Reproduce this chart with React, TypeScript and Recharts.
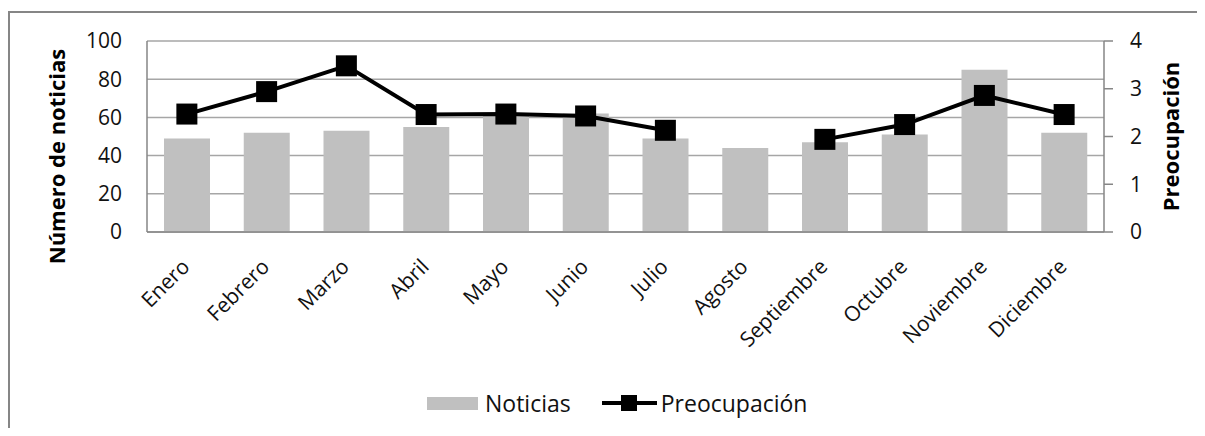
import React from "react";
import { ComposedChart, Bar, Line, XAxis, YAxis, CartesianGrid, Legend } from "recharts";

// Data
const months = [
  "Enero",
  "Febrero",
  "Marzo",
  "Abril",
  "Mayo",
  "Junio",
  "Julio",
  "Agosto",
  "Septiembre",
  "Octubre",
  "Noviembre",
  "Diciembre",
];
const noticias = [49, 52, 53, 55, 61, 62, 49, 44, 47, 51, 85, 52];
const preocupacion: (number | null)[] = [2.47, 2.94, 3.48, 2.46, 2.47, 2.43, 2.13, null, 1.94, 2.25, 2.86, 2.46];
const leftTicks = [0, 20, 40, 60, 80, 100];
const rightTicks = [0, 1, 2, 3, 4];

const data = months.map((m, i) => ({ name: m, noticias: noticias[i], preocupacion: preocupacion[i] }));

const FONT = "'Open Sans', sans-serif";
const AXIS = "#868686";
const GRID = "#a6a6a6";
const BAR = "#c0c0c0";

function MonthTick({ x, y, payload }: any) {
  const ax = x + 4;
  const ay = y + 36;
  return (
    <text
      x={ax}
      y={ay}
      transform={`rotate(-45, ${ax}, ${ay})`}
      textAnchor="end"
      fontFamily={FONT}
      fontSize={21}
      fill="#111"
    >
      {payload.value}
    </text>
  );
}

function SquareDot({ cx, cy, index }: any) {
  if (cx == null || cy == null) return <g key={`d-${index}`} />;
  return <rect key={`d-${index}`} x={cx - 10.5} y={cy - 10.5} width={21} height={21} fill="#000" />;
}

function ChartLegend() {
  return (
    <div style={{ display: "flex", alignItems: "center", height: 40, fontFamily: FONT, fontSize: 23, color: "#111" }}>
      <span style={{ display: "inline-block", width: 51, height: 13, background: BAR, marginRight: 7 }} />
      <span style={{ marginRight: 31 }}>Noticias</span>
      <svg width={55} height={18} style={{ marginRight: 4 }}>
        <line x1={0} y1={9} x2={55} y2={9} stroke="#000" strokeWidth={4} strokeLinecap="round" />
        <rect x={19} y={1} width={16} height={16} fill="#000" />
      </svg>
      <span>Preocupación</span>
    </div>
  );
}

export default function App() {
  return (
    <div style={{ position: "relative", width: 1189, height: 420 }}>
      {/* chart frame: only top and left edges show in the picture */}
      <svg
        width={1197}
        height={420}
        style={{ position: "absolute", left: 0, top: 0 }}
      >
        <path d="M1 420 L1 4 L1197 4" fill="none" stroke={AXIS} strokeWidth={2} />
      </svg>
      <ComposedChart
        width={1197}
        height={420}
        data={data}
        margin={{ top: 33, right: 41, left: 79, bottom: 0 }}
        style={{ position: "absolute", left: 0, top: 0 }}
      >
        <CartesianGrid yAxisId="left" vertical={false} stroke={GRID} strokeWidth={1.5} />
        <XAxis
          dataKey="name"
          height={156}
          interval={0}
          tickLine={false}
          tickSize={0}
          tickMargin={0}
          axisLine={{ stroke: AXIS, strokeWidth: 1.5 }}
          tick={<MonthTick />}
        />
        <YAxis
          yAxisId="left"
          width={60}
          domain={[0, 100]}
          ticks={leftTicks}
          tickLine={false}
          tickSize={0}
          tickMargin={25}
          axisLine={{ stroke: AXIS, strokeWidth: 1.5 }}
          tick={{ fontFamily: FONT, fontSize: 21, fill: "#111" }}
          label={{
            content: ({ viewBox }: any) => {
              const cx = viewBox.x - 31;
              const cy = viewBox.y + viewBox.height / 2 + 20;
              return (
                <text
                  x={cx}
                  y={cy}
                  transform={`rotate(-90, ${cx}, ${cy})`}
                  textAnchor="middle"
                  dominantBaseline="central"
                  fontFamily={FONT}
                  fontWeight={700}
                  fontSize={22}
                  fill="#000"
                >
                  Número de noticias
                </text>
              );
            },
          }}
        />
        <YAxis
          yAxisId="right"
          orientation="right"
          width={60}
          domain={[0, 4]}
          ticks={rightTicks}
          tickLine={{ stroke: AXIS, strokeWidth: 1.5 }}
          tickSize={9}
          tickMargin={17}
          axisLine={{ stroke: AXIS, strokeWidth: 1.5 }}
          tick={{ fontFamily: FONT, fontSize: 21, fill: "#111" }}
          label={{
            content: ({ viewBox }: any) => {
              const cx = viewBox.x + 66;
              const cy = viewBox.y + viewBox.height / 2;
              return (
                <text
                  x={cx}
                  y={cy}
                  transform={`rotate(-90, ${cx}, ${cy})`}
                  textAnchor="middle"
                  dominantBaseline="central"
                  fontFamily={FONT}
                  fontWeight={700}
                  fontSize={22}
                  fill="#000"
                >
                  Preocupación
                </text>
              );
            },
          }}
        />
        <Bar yAxisId="left" dataKey="noticias" name="Noticias" fill={BAR} barSize={46} isAnimationActive={false} />
        <Line
          yAxisId="right"
          dataKey="preocupacion"
          name="Preocupación"
          type="linear"
          stroke="#000"
          strokeWidth={4}
          dot={<SquareDot />}
          activeDot={false}
          isAnimationActive={false}
        />
        <Legend verticalAlign="bottom" content={<ChartLegend />} wrapperStyle={{ left: 419, bottom: 5, width: 420 }} />
      </ComposedChart>
    </div>
  );
}
